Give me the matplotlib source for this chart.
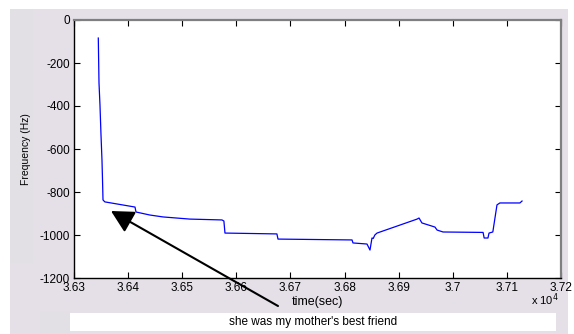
import matplotlib
matplotlib.use("Agg")
import matplotlib.pyplot as plt
from matplotlib.patches import Rectangle

plt.rcParams['font.family'] = ['Liberation Sans', 'DejaVu Sans']
plt.rcParams['axes.unicode_minus'] = False

# pitch track (time in seconds, frequency in Hz)
time_s = [36344.9, 36346.2, 36348.0, 36349.9, 36351.7, 36352.7, 36353.6, 36357.0,
          36412.7, 36414.6, 36440.0, 36464.5, 36514.0, 36573.5, 36577.0, 36579.0,
          36675.0, 36677.0, 36813.8, 36815.6, 36841.5, 36847.0, 36850.7, 36853.0,
          36856.0, 36860.0, 36934.0, 36937.6, 36943.0, 36967.0, 36971.0, 36982.0,
          37056.0, 37058.0, 37065.0, 37067.0, 37074.0, 37081.7, 37087.0, 37124.0,
          37128.0]
freq_hz = [-84, -293, -395, -535, -651, -744, -837, -846,
           -870, -893, -907, -916, -926, -930, -935, -991,
           -995, -1019, -1023, -1037, -1042, -1070, -1014, -1016,
           -1000, -991, -926, -921, -944, -963, -977, -986,
           -988, -1014, -1014, -991, -986, -860, -851, -851,
           -842]

x_ticks = [36300, 36400, 36500, 36600, 36700, 36800, 36900, 37000, 37100, 37200]
y_ticks = [0, -200, -400, -600, -800, -1000, -1200]
caption = "she was my mother's best friend"

W, H = 574, 334
fig = plt.figure(figsize=(W / 100, H / 100), dpi=100, facecolor='white')

# grey window background with white margins
bg = '#e5e0e8'
fig.patches.append(Rectangle((10 / W, 0), 558 / W, 1 - 9 / H, transform=fig.transFigure,
                             facecolor=bg, edgecolor='none', zorder=-3))
fig.patches.append(Rectangle((10 / W, 1 - 263 / H), 23 / W, 254 / H, transform=fig.transFigure,
                             facecolor='#e2dfe5', edgecolor='none', zorder=-2))
fig.patches.append(Rectangle((40 / W, 0), 30 / W, 23 / H, transform=fig.transFigure,
                             facecolor='#e2dfe5', edgecolor='none', zorder=-2))
# caption box
fig.patches.append(Rectangle((70 / W, 1 - 331 / H), 486 / W, 18 / H, transform=fig.transFigure,
                             facecolor='white', edgecolor='none', zorder=-1))
fig.text(313 / W, 1 - 322 / H, caption, ha='center', va='center', fontsize=8.5)

ax = fig.add_axes([74 / W, 1 - 278 / H, 487 / W, 258 / H])
ax.plot(time_s, freq_hz, color='#0000ff', lw=0.9)

ax.set_xlim(36300, 37200)
ax.set_ylim(-1200, 0)
ax.set_xticks(x_ticks)
ax.set_xticklabels(['%g' % (v / 1e4) for v in x_ticks])
ax.set_yticks(y_ticks)
ax.set_yticklabels([str(v) for v in y_ticks])
ax.tick_params(direction='in', length=4, width=0.8, labelsize=8.5, pad=3,
               top=True, right=True, colors='black')
ax.tick_params(axis='y', pad=3)

for side in ['left', 'bottom']:
    ax.spines[side].set_color('black')
    ax.spines[side].set_linewidth(1.0)
for side in ['top', 'right']:
    ax.spines[side].set_color('#7f7f7f')
    ax.spines[side].set_linewidth(1.6)

ax.set_ylabel('Frequency (Hz)', fontsize=7.5, labelpad=6)
ax.set_xlabel('time(sec)', fontsize=9, labelpad=1)
fig.text(545 / W, 1 - 300 / H, r'x 10$^4$', ha='center', va='center', fontsize=8)

ax.annotate('', xy=(111 / W, 1 - 211 / H), xycoords='figure fraction',
            xytext=(278 / W, 1 - 306 / H), textcoords='figure fraction',
            annotation_clip=False,
            arrowprops=dict(arrowstyle='-|>,head_length=1.37,head_width=0.72',
                            mutation_scale=10, color='black', lw=1.5,
                            shrinkA=0, shrinkB=0))

fig.savefig('out.png', dpi=100, facecolor=fig.get_facecolor())
